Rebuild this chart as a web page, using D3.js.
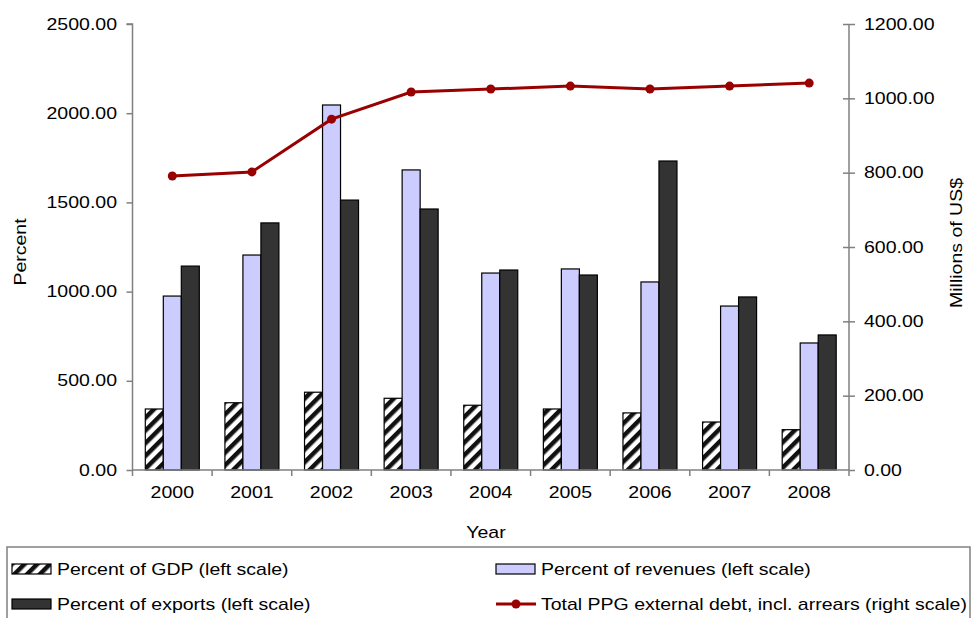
<!DOCTYPE html>
<html>
<head>
<meta charset="utf-8">
<script src="https://cdn.jsdelivr.net/npm/d3@7/dist/d3.min.js"></script>
<style>
  html, body { margin: 0; padding: 0; background: #fff; }
  svg { display: block; }
  text { font-family: "Liberation Sans", Arial, sans-serif; fill: #000; }
</style>
</head>
<body>
<svg id="chart" width="972" height="618"></svg>
<script>
// Debt indicators by year
const years = ["2000", "2001", "2002", "2003", "2004", "2005", "2006", "2007", "2008"];
const pctGDP = [342, 377, 436, 402, 363, 342, 320, 269, 226];
const pctRevenues = [975, 1205, 2046, 1682, 1104, 1127, 1054, 919, 712];
const pctExports = [1143, 1385, 1513, 1463, 1121, 1093, 1732, 970, 757];
const totalDebt = [791, 802, 944, 1017, 1025, 1033, 1025, 1033, 1041];

const leftTicks = [0, 500, 1000, 1500, 2000, 2500];
const rightTicks = [0, 200, 400, 600, 800, 1000, 1200];

const seriesNames = [
  "Percent of GDP (left scale)",
  "Percent of revenues (left scale)",
  "Percent of exports (left scale)",
  "Total PPG external debt, incl. arrears (right scale)"
];

const plot = { left: 132.5, right: 849, top: 24, bottom: 470 };
const FS = 16;       // font size
const SX = 1.22;     // glyph stretch along the reading direction

const svg = d3.select("#chart");

// hatch for the GDP series
const defs = svg.append("defs");
const pat = defs.append("pattern")
  .attr("id", "hatch")
  .attr("patternUnits", "userSpaceOnUse")
  .attr("width", 9).attr("height", 9)
  .attr("patternTransform", "rotate(45)");
pat.append("rect").attr("width", 9).attr("height", 9).attr("fill", "#fff");
pat.append("rect").attr("x", 0).attr("width", 4.5).attr("height", 9).attr("fill", "#111");

const fills = ["url(#hatch)", "#ccccff", "#333333"];
const barSeries = [pctGDP, pctRevenues, pctExports];

const x0 = d3.scaleBand().domain(years).range([plot.left, plot.right]).padding(0);
const groupW = 54;
const x1 = d3.scaleBand().domain([0, 1, 2])
  .range([(x0.bandwidth() - groupW) / 2, (x0.bandwidth() + groupW) / 2]).padding(0);
const yL = d3.scaleLinear().domain([0, 2500]).range([plot.bottom, plot.top]);
const yR = d3.scaleLinear().domain([0, 1200]).range([plot.bottom, plot.top]);

// text helper: stretched along the reading direction, optional rotation
function label(g, str, x, y, anchor, rot) {
  const stretch = rot ? `scale(1,${SX}) rotate(${rot})` : `scale(${SX},1)`;
  return g.append("text")
    .attr("transform", `translate(${x},${y}) ${stretch}`)
    .attr("text-anchor", anchor || "start")
    .attr("font-size", FS)
    .text(str);
}

const axisColor = "#808080";

// bars
const bars = svg.append("g");
years.forEach((yr, i) => {
  barSeries.forEach((vals, s) => {
    bars.append("rect")
      .attr("x", x0(yr) + x1(s))
      .attr("y", yL(vals[i]))
      .attr("width", x1.bandwidth())
      .attr("height", yL(0) - yL(vals[i]))
      .attr("fill", fills[s])
      .attr("stroke", "#000")
      .attr("stroke-width", 1.2);
  });
});

// left axis
const axL = d3.axisLeft(yL).tickValues(leftTicks).tickSize(6).tickFormat(d3.format(".2f"));
const gL = svg.append("g").attr("transform", `translate(${plot.left},0)`).call(axL);
gL.select(".domain").attr("stroke", axisColor).attr("stroke-width", 1.5).attr("d", `M-6,${plot.top}H0V${plot.bottom}`);
gL.selectAll(".tick line").attr("stroke", axisColor).attr("stroke-width", 1.5);
gL.selectAll(".tick text").remove();
leftTicks.forEach(v => label(svg, d3.format(".2f")(v), 117, yL(v) + 5.5, "end"));

// right axis
const axR = d3.axisRight(yR).tickValues(rightTicks).tickSize(6).tickFormat(d3.format(".2f"));
const gR = svg.append("g").attr("transform", `translate(${plot.right},0)`).call(axR);
gR.select(".domain").attr("stroke", axisColor).attr("stroke-width", 1.5).attr("d", `M0,${plot.top}V${plot.bottom}`);
gR.selectAll(".tick line").attr("stroke", axisColor).attr("stroke-width", 1.5).attr("x1", d => d === 0 ? 0 : -6).attr("x2", 6);
gR.selectAll(".tick text").remove();
rightTicks.forEach(v => label(svg, d3.format(".2f")(v), 864, yR(v) + 5.5, "start"));

// x axis
const axX = d3.axisBottom(x0).tickSize(0).tickFormat("");
const gX = svg.append("g").attr("transform", `translate(0,${plot.bottom})`).call(axX);
gX.select(".domain").attr("stroke", axisColor).attr("stroke-width", 1.5).attr("d", `M${plot.left},0H${plot.right}`);
gX.selectAll(".tick").remove();
const bounds = years.map(y => x0(y)).concat([plot.right]);
gX.selectAll(".bound").data(bounds).enter().append("line")
  .attr("x1", d => d).attr("x2", d => d).attr("y1", 0).attr("y2", 6)
  .attr("stroke", axisColor).attr("stroke-width", 1.5);
years.forEach(yr => label(svg, yr, x0(yr) + x0.bandwidth() / 2, 498, "middle"));

// axis titles
label(svg, "Year", 486, 538, "middle");
label(svg, "Percent", 26, 252, "middle", -90);
label(svg, "Millions of US$", 962, 243, "middle", -90);

// debt line
const lineColor = "#990000";
const cx = i => x0(years[i]) + x0.bandwidth() / 2;
const line = d3.line().x((d, i) => cx(i)).y(d => yR(d));
svg.append("path").datum(totalDebt)
  .attr("d", line).attr("fill", "none")
  .attr("stroke", lineColor).attr("stroke-width", 3);
svg.append("g").selectAll("circle").data(totalDebt).enter().append("circle")
  .attr("cx", (d, i) => cx(i)).attr("cy", d => yR(d)).attr("r", 4.5)
  .attr("fill", lineColor);

// legend
const leg = svg.append("g");
leg.append("rect").attr("x", 7).attr("y", 547).attr("width", 963).attr("height", 90)
  .attr("fill", "#fff").attr("stroke", axisColor).attr("stroke-width", 1.5);
const legItems = [
  { x: 12, y: 569, s: 0 },
  { x: 496, y: 569, s: 1 },
  { x: 12, y: 604, s: 2 },
  { x: 496, y: 604, s: 3 }
];
legItems.forEach(it => {
  if (it.s < 3) {
    leg.append("rect").attr("x", it.x).attr("y", it.y - 5).attr("width", 39).attr("height", 10)
      .attr("fill", fills[it.s]).attr("stroke", "#000").attr("stroke-width", 1.2);
  } else {
    leg.append("line").attr("x1", it.x).attr("x2", it.x + 40).attr("y1", it.y).attr("y2", it.y)
      .attr("stroke", lineColor).attr("stroke-width", 3);
    leg.append("circle").attr("cx", it.x + 20).attr("cy", it.y).attr("r", 4.5).attr("fill", lineColor);
  }
  label(leg, seriesNames[it.s], it.x + 45, it.y + 5.5, "start");
});
</script>
</body>
</html>
